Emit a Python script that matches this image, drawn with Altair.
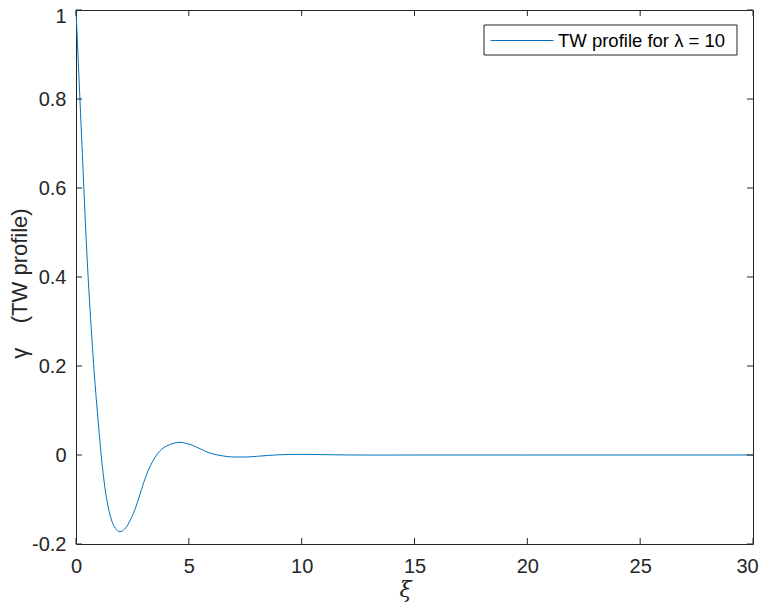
import altair as alt
import pandas as pd

# Travelling-wave profile
xi = [0.0, 0.1, 0.2, 0.3, 0.4, 0.5, 0.6, 0.7, 0.8, 0.9, 1.0, 1.1, 1.2, 1.3, 1.4,
      1.5, 1.6, 1.7, 1.8, 1.9, 2.0, 2.1, 2.2, 2.4, 2.6, 2.8, 3.0, 3.2, 3.4, 3.6,
      3.8, 4.0, 4.3, 4.6, 4.9, 5.2, 5.5, 5.8, 6.1, 6.5, 7.0, 7.5, 8.0, 8.5, 9.0,
      9.5, 10.0, 10.5, 11.0, 11.5, 12.0, 13.0, 14.0, 15.0, 20.0, 25.0, 30.0]
gamma = [1.0, 0.885, 0.77, 0.655, 0.54, 0.435, 0.345, 0.265, 0.19, 0.125, 0.065,
         0.008, -0.04, -0.08, -0.11, -0.133, -0.150, -0.161, -0.168, -0.172,
         -0.172, -0.169, -0.164, -0.147, -0.124, -0.094, -0.062, -0.035, -0.014,
         0.002, 0.013, 0.020, 0.026, 0.0285, 0.026, 0.021, 0.014, 0.007, 0.002,
         -0.002, -0.0045, -0.0045, -0.003, -0.001, 0.0005, 0.0012, 0.0014,
         0.0012, 0.0008, 0.0004, 0.0001, -0.0001, -0.0001, 0.0, 0.0, 0.0, 0.0]
series_name = "TW profile for \u03bb = 10"

x_ticks = [0, 5, 10, 15, 20, 25, 30]
y_ticks = [-0.2, 0, 0.2, 0.4, 0.6, 0.8, 1]

W, H = 677, 534
AXC = "#262626"
LINEC = "#0072BD"
FONT = "Liberation Sans"
NB = "\u00a0"

df = pd.DataFrame({"xi": xi, "gamma": gamma})
xt = pd.DataFrame({"xi": x_ticks})
yt = pd.DataFrame({"gamma": y_ticks})
leg = pd.DataFrame({"series": [series_name]})

xs = alt.Scale(domain=[0, 30], nice=False, zero=False)
ys = alt.Scale(domain=[-0.2, 1], nice=False, zero=False)

x_axis = alt.Axis(values=x_ticks, format="~g", ticks=False, domain=False, grid=False,
                  labelFlush=False,
                  labelOffset={"condition": {"test": "datum.value == 30", "value": -6}, "value": 0},
                  labelFontSize=20, labelFont=FONT, labelColor=AXC, labelPadding=12,
                  title="\u03be", titleFont="DejaVu Serif", titleFontStyle="italic",
                  titleFontWeight="normal", titleFontSize=22, titleColor=AXC,
                  titleX=329, titleY=52, titleBaseline="alphabetic", titleAlign="center")
y_axis = alt.Axis(values=y_ticks, ticks=False, domain=False, grid=False,
                  labelFlush=False,
                  labelExpr="datum.value < 0 ? '-' + format(-datum.value, '~g') : format(datum.value, '~g')",
                  labelFontSize=20, labelFont=FONT, labelColor=AXC, labelPadding=10,
                  labelBaseline="middle",
                  labelOffset={"condition": {"test": "datum.value == 1", "value": 6}, "value": 0},
                  title="\u03b3" + NB * 4 + "(TW profile)", titleFont=FONT, titleFontWeight="normal",
                  titleFontSize=22, titleColor=AXC, titleAngle=270,
                  titleX=-50, titleY=273, titleBaseline="alphabetic", titleAlign="center")

X = alt.X("xi:Q", scale=xs, axis=x_axis)
Y = alt.Y("gamma:Q", scale=ys, axis=y_axis)

line = alt.Chart(df).mark_line(strokeWidth=1, interpolate="monotone", color=LINEC).encode(
    x=X, y=Y)

tick_style = dict(color=AXC, strokeWidth=1)
bottom_t = alt.Chart(xt).mark_rule(**tick_style).encode(
    x=X, y=alt.value(H - 6), y2=alt.value(H))
top_t = alt.Chart(xt).mark_rule(**tick_style).encode(
    x=X, y=alt.value(0), y2=alt.value(6))
left_t = alt.Chart(yt).mark_rule(**tick_style).encode(
    y=Y, x=alt.value(0), x2=alt.value(6))
right_t = alt.Chart(yt).mark_rule(**tick_style).encode(
    y=Y, x=alt.value(W - 6), x2=alt.value(W))

# legend box (top-right, MATLAB style)
leg_box = alt.Chart(leg).mark_rect(fill="#ffffff", stroke=AXC, strokeWidth=1).encode(
    x=alt.value(408), x2=alt.value(661), y=alt.value(15), y2=alt.value(45))
leg_line = alt.Chart(leg).mark_rule(color=LINEC, strokeWidth=1).encode(
    x=alt.value(414.5), x2=alt.value(477.5), y=alt.value(30.5))
leg_text = alt.Chart(leg).mark_text(align="left", baseline="middle", fontSize=18.5,
                                    font=FONT, color="#000000").encode(
    x=alt.value(482), y=alt.value(31), text="series:N")

chart = alt.layer(line, bottom_t, top_t, left_t, right_t,
                  leg_box, leg_line, leg_text).properties(
    width=W, height=H,
    autosize=alt.AutoSizeParams(type="none"),
    padding={"left": 68, "top": 2, "right": 6, "bottom": 60},
    background="#ffffff",
).configure_view(stroke=AXC, strokeWidth=1)

chart.save("out.html", embed_options={"renderer": "svg", "actions": False})
